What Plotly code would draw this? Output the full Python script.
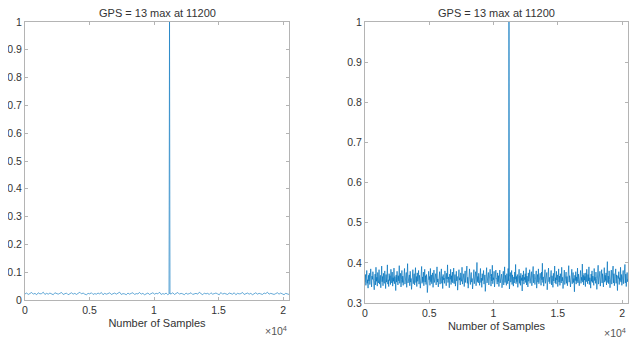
import numpy as np
import plotly.graph_objects as go

# ---- data ----
n_samples = 20460
peak_sample = 11200
peak_value = 1.0
title_text = "GPS = 13 max at 11200"
x_label = "Number of Samples"
x_tick_vals = [0, 5000, 10000, 15000, 20000]
x_tick_text = ["0", "0.5", "1", "1.5", "2"]
left_y_ticks = [0, 0.1, 0.2, 0.3, 0.4, 0.5, 0.6, 0.7, 0.8, 0.9, 1.0]
left_y_text = ["0", "0.1", "0.2", "0.3", "0.4", "0.5", "0.6", "0.7", "0.8", "0.9", "1"]
right_y_ticks = [0.3, 0.4, 0.5, 0.6, 0.7, 0.8, 0.9, 1.0]
right_y_text = ["0.3", "0.4", "0.5", "0.6", "0.7", "0.8", "0.9", "1"]

# left panel: correlation floor
left_noise = [
    0.022, 0.025, 0.020, 0.023, 0.027, 0.021, 0.024, 0.019, 0.026, 0.022,
    0.023, 0.028, 0.020, 0.024, 0.021, 0.025, 0.022, 0.019, 0.026, 0.023,
    0.021, 0.024, 0.027, 0.020, 0.023, 0.025, 0.019, 0.022, 0.026, 0.021,
    0.024, 0.020, 0.023, 0.028, 0.022, 0.025, 0.021, 0.019, 0.024, 0.022,
    0.026, 0.020, 0.023, 0.021, 0.025, 0.022, 0.027, 0.019, 0.024, 0.021,
    0.023, 0.026, 0.020, 0.022, 0.025, 0.021, 0.024, 0.028, 0.020, 0.023,
    0.022, 0.019, 0.025, 0.021, 0.024, 0.026, 0.020, 0.023, 0.022, 0.027,
    0.021, 0.024, 0.019, 0.022, 0.025, 0.020, 0.023, 0.026, 0.021, 0.024,
    0.022, 0.028, 0.020, 0.023, 0.021, 0.025, 0.019, 0.024, 0.022, 0.026,
    0.020, 0.023, 0.027, 0.021, 0.024, 0.022, 0.019, 0.025, 0.021, 0.023,
    0.026, 0.020, 0.022, 0.024, 0.021, 0.028, 0.023, 0.019, 0.025, 0.022,
    0.024, 0.020, 0.026, 0.021, 0.023, 0.025, 0.022, 0.019, 0.027, 0.021,
    0.024, 0.022, 0.020, 0.025, 0.023, 0.021, 0.026, 0.019, 0.024, 0.022,
    0.023, 0.027, 0.020, 0.022, 0.025, 0.021, 0.024, 0.019, 0.023, 0.026,
    0.021, 0.024, 0.022, 0.020, 0.025, 0.023, 0.028, 0.021, 0.024, 0.022,
    0.020, 0.023, 0.026, 0.021, 0.025, 0.022, 0.019, 0.024, 0.021, 0.020,
]

# right panel: correlation floor, in sample order
right_noise = [
    0.352, 0.371, 0.344, 0.366, 0.381, 0.349, 0.358, 0.337, 0.369, 0.355, 0.374, 0.346, 0.362, 0.385, 0.351, 0.340, 0.367, 0.359, 0.378, 0.348,
    0.363, 0.333, 0.356, 0.372, 0.345, 0.389, 0.354, 0.364, 0.342, 0.376, 0.357, 0.350, 0.383, 0.347, 0.361, 0.369, 0.338, 0.358, 0.392, 0.353,
    0.366, 0.343, 0.374, 0.355, 0.349, 0.380, 0.360, 0.336, 0.371, 0.352, 0.364, 0.395, 0.347, 0.358, 0.341, 0.373, 0.356, 0.368, 0.346, 0.384,
    0.359, 0.350, 0.377, 0.342, 0.363, 0.354, 0.387, 0.348, 0.366, 0.357, 0.331, 0.370, 0.352, 0.379, 0.361, 0.345, 0.368, 0.355, 0.393, 0.349,
    0.362, 0.374, 0.340, 0.358, 0.381, 0.351, 0.367, 0.344, 0.372, 0.356, 0.386, 0.347, 0.363, 0.353, 0.376, 0.339, 0.360, 0.398, 0.350, 0.365,
    0.355, 0.370, 0.343, 0.379, 0.352, 0.361, 0.334, 0.368, 0.357, 0.383, 0.348, 0.364, 0.373, 0.345, 0.359, 0.388, 0.351, 0.366, 0.341, 0.375,
    0.354, 0.362, 0.381, 0.347, 0.369, 0.356, 0.337, 0.372, 0.358, 0.391, 0.349, 0.365, 0.353, 0.377, 0.343, 0.360, 0.384, 0.352, 0.368, 0.346,
    0.371, 0.355, 0.326, 0.363, 0.350, 0.379, 0.358, 0.366, 0.344, 0.386, 0.353, 0.370, 0.348, 0.361, 0.375, 0.339, 0.357, 0.382, 0.351, 0.367,
    0.356, 0.373, 0.345, 0.364, 0.390, 0.352, 0.360, 0.340, 0.369, 0.357, 0.378, 0.347, 0.363, 0.355, 0.385, 0.349, 0.366, 0.336, 0.371, 0.358,
    0.362, 0.349, 0.380, 0.354, 0.367, 0.343, 0.374, 0.360, 0.395, 0.351, 0.365, 0.356, 0.338, 0.372, 0.359, 0.384, 0.346, 0.368, 0.353, 0.377,
    0.350, 0.364, 0.387, 0.348, 0.361, 0.371, 0.342, 0.358, 0.379, 0.355, 0.366, 0.332, 0.369, 0.352, 0.383, 0.357, 0.363, 0.345, 0.375, 0.360,
    0.354, 0.389, 0.347, 0.366, 0.358, 0.373, 0.341, 0.362, 0.380, 0.351, 0.368, 0.356, 0.392, 0.349, 0.364, 0.337, 0.371, 0.355, 0.385, 0.359,
    0.346, 0.367, 0.376, 0.352, 0.361, 0.335, 0.370, 0.357, 0.383, 0.348, 0.364, 0.355, 0.378, 0.343, 0.360, 0.401, 0.353, 0.366, 0.350, 0.374,
    0.358, 0.344, 0.369, 0.386, 0.351, 0.362, 0.339, 0.373, 0.356, 0.365, 0.381, 0.347, 0.359, 0.370, 0.329, 0.363, 0.354, 0.388, 0.350, 0.367,
    0.357, 0.376, 0.345, 0.361, 0.353, 0.384, 0.366, 0.342, 0.372, 0.355, 0.394, 0.348, 0.363, 0.358, 0.379, 0.340, 0.368, 0.352, 0.382, 0.360,
    0.361, 0.347, 0.375, 0.353, 0.368, 0.341, 0.359, 0.382, 0.350, 0.364, 0.356, 0.372, 0.338, 0.366, 0.354, 0.379, 0.345, 0.362, 0.390, 0.351,
    0.369, 0.357, 0.344, 0.373, 0.360, 0.348, 0.386, 0.355, 0.367, 0.335, 0.363, 0.376, 0.352, 0.358, 0.381, 0.346, 0.370, 0.354, 0.342, 0.365,
    0.350, 0.377, 0.359, 0.396, 0.348, 0.366, 0.353, 0.371, 0.339, 0.362, 0.357, 0.384, 0.349, 0.368, 0.344, 0.374, 0.356, 0.363, 0.330, 0.370,
    0.355, 0.380, 0.347, 0.364, 0.358, 0.373, 0.351, 0.388, 0.345, 0.367, 0.360, 0.340, 0.375, 0.354, 0.362, 0.383, 0.349, 0.369, 0.357, 0.378,
    0.343, 0.365, 0.353, 0.391, 0.350, 0.372, 0.359, 0.346, 0.368, 0.356, 0.380, 0.337, 0.363, 0.371, 0.352, 0.385, 0.348, 0.366, 0.355, 0.374,
    0.360, 0.344, 0.377, 0.358, 0.399, 0.351, 0.365, 0.342, 0.370, 0.357, 0.383, 0.349, 0.362, 0.354, 0.376, 0.333, 0.367, 0.359, 0.387, 0.353,
    0.364, 0.348, 0.372, 0.356, 0.381, 0.345, 0.368, 0.361, 0.339, 0.374, 0.355, 0.366, 0.392, 0.350, 0.363, 0.347, 0.379, 0.357, 0.370, 0.341,
    0.358, 0.385, 0.352, 0.367, 0.344, 0.373, 0.360, 0.350, 0.389, 0.355, 0.364, 0.336, 0.371, 0.358, 0.382, 0.346, 0.365, 0.354, 0.377, 0.349,
    0.366, 0.343, 0.374, 0.359, 0.393, 0.352, 0.368, 0.357, 0.340, 0.370, 0.355, 0.384, 0.348, 0.363, 0.376, 0.351, 0.361, 0.328, 0.369, 0.356,
    0.378, 0.347, 0.365, 0.354, 0.387, 0.350, 0.372, 0.358, 0.343, 0.367, 0.361, 0.381, 0.349, 0.364, 0.356, 0.397, 0.352, 0.369, 0.345, 0.374,
    0.357, 0.366, 0.341, 0.375, 0.353, 0.384, 0.360, 0.348, 0.371, 0.355, 0.390, 0.346, 0.363, 0.358, 0.337, 0.372, 0.354, 0.380, 0.351, 0.367,
    0.359, 0.344, 0.386, 0.356, 0.364, 0.349, 0.377, 0.361, 0.334, 0.370, 0.353, 0.394, 0.347, 0.366, 0.355, 0.379, 0.342, 0.368, 0.357, 0.383,
    0.350, 0.373, 0.358, 0.340, 0.365, 0.388, 0.352, 0.369, 0.356, 0.375, 0.345, 0.362, 0.403, 0.351, 0.367, 0.348, 0.380, 0.359, 0.338, 0.371,
    0.354, 0.382, 0.347, 0.366, 0.360, 0.392, 0.350, 0.373, 0.343, 0.364, 0.357, 0.385, 0.349, 0.370, 0.355, 0.331, 0.368, 0.361, 0.378, 0.346,
    0.363, 0.356, 0.389, 0.352, 0.371, 0.344, 0.366, 0.358, 0.381, 0.348, 0.365, 0.354, 0.396, 0.350, 0.372, 0.341, 0.362, 0.376, 0.353, 0.360,
]


def with_peak(noise):
    """Place the floor samples on the sample axis and add the narrow peak at peak_sample."""
    xs = list(np.linspace(0, n_samples, len(noise)))
    ys = list(noise)
    i = int(np.searchsorted(xs, peak_sample))
    xs[i:i] = [peak_sample - 40, peak_sample, peak_sample + 40]
    ys[i:i] = [noise[i - 1], peak_value, noise[i]]
    return xs, ys


lx, ly = with_peak(left_noise)
rx, ry = with_peak(right_noise)

# page has an 8 px body margin; the figure is sized so that the full window is covered
OFF = 8
W, H = 638 - OFF, 340 - OFF


def px(x):
    return (x - OFF) / W


def py(y):
    return 1 - (y - OFF) / H


LINE = "#0072BD"
AX = "#b4b4b4"
TXT = "#333333"
FONT = "Liberation Sans, Arial, sans-serif"

fig = go.Figure()
fig.add_trace(go.Scatter(x=lx, y=ly, mode="lines", line=dict(color=LINE, width=0.6),
                         xaxis="x", yaxis="y", showlegend=False, hoverinfo="skip"))
fig.add_trace(go.Scatter(x=rx, y=ry, mode="lines", line=dict(color=LINE, width=0.7),
                         xaxis="x2", yaxis="y2", showlegend=False, hoverinfo="skip"))

left_dom = [px(25), px(289)]
right_dom = [px(365), px(628)]
left_ydom = [py(300), py(22)]
right_ydom = [py(303), py(22)]

common_x = dict(range=[0, n_samples], tickvals=x_tick_vals, ticktext=x_tick_text,
                ticks="inside", ticklen=3, tickcolor=AX, showline=True, linecolor=AX,
                linewidth=1, mirror="ticks", showgrid=False, zeroline=False, automargin=False,
                tickfont=dict(family=FONT, size=10.5, color=TXT),
                title=dict(text=x_label, font=dict(family=FONT, size=11, color=TXT), standoff=4))
common_y = dict(ticks="inside", ticklen=3, tickcolor=AX, showline=True, linecolor=AX,
                linewidth=1, mirror="ticks", showgrid=False, zeroline=False, automargin=False,
                tickfont=dict(family=FONT, size=10.5, color=TXT))

fig.update_layout(
    width=W, height=H,
    margin=dict(l=0, r=0, t=0, b=0),
    paper_bgcolor="white", plot_bgcolor="white",
    xaxis=dict(domain=left_dom, anchor="y", **common_x),
    yaxis=dict(domain=left_ydom, anchor="x", range=[0, 1], tickvals=left_y_ticks,
               ticktext=left_y_text, **common_y),
    xaxis2=dict(domain=right_dom, anchor="y2", **common_x),
    yaxis2=dict(domain=right_ydom, anchor="x2", range=[0.3, 1], tickvals=right_y_ticks,
                ticktext=right_y_text, **common_y),
    annotations=[
        dict(text=title_text, x=(left_dom[0] + left_dom[1]) / 2, y=py(13),
             xref="paper", yref="paper", showarrow=False, xanchor="center", yanchor="middle",
             font=dict(family=FONT, size=11, color=TXT)),
        dict(text=title_text, x=(right_dom[0] + right_dom[1]) / 2, y=py(13),
             xref="paper", yref="paper", showarrow=False, xanchor="center", yanchor="middle",
             font=dict(family=FONT, size=11, color=TXT)),
        dict(text="×10<sup>4</sup>", x=left_dom[1], y=py(330), xref="paper", yref="paper",
             showarrow=False, xanchor="right", yanchor="middle",
             font=dict(family=FONT, size=10.5, color="#555555")),
        dict(text="×10<sup>4</sup>", x=right_dom[1], y=py(332), xref="paper", yref="paper",
             showarrow=False, xanchor="right", yanchor="middle",
             font=dict(family=FONT, size=10.5, color="#555555")),
    ],
)

fig.write_html("out.html")
